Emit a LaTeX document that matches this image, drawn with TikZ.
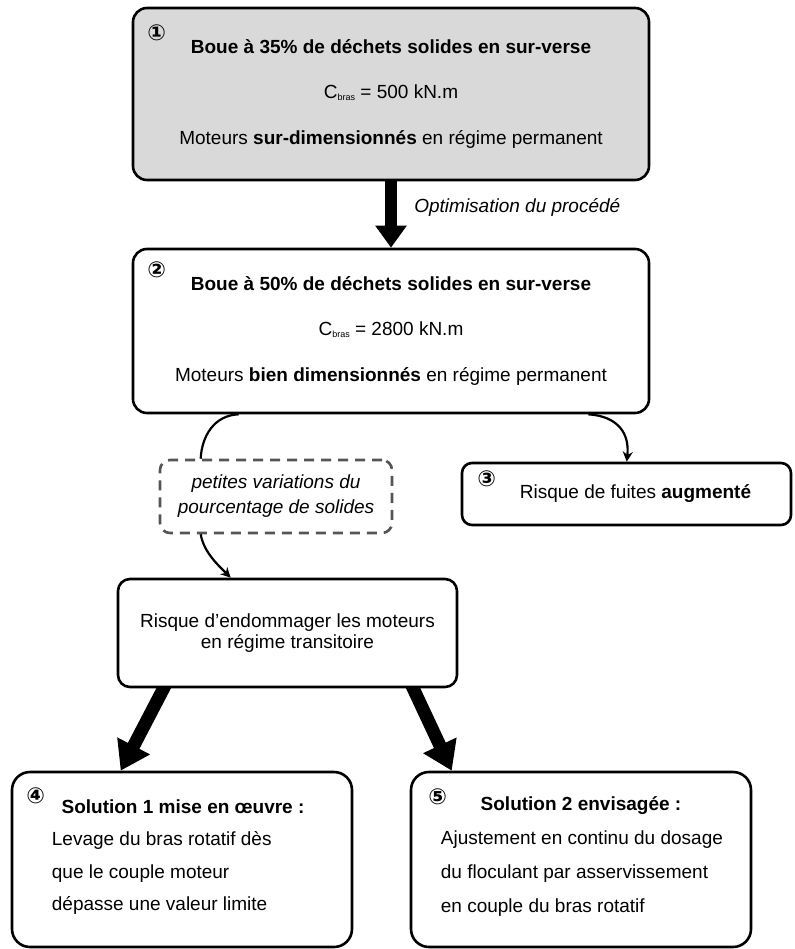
\documentclass[tikz,border=0pt]{standalone}
\usepackage{fontspec}
\setmainfont{Liberation Sans}
\newfontfamily\circfont{DejaVu Sans}
\usetikzlibrary{arrows.meta,backgrounds}
\definecolor{boxgrey}{HTML}{D9D9D9}
\definecolor{dashgrey}{HTML}{555555}
\newcommand{\Cbras}{C\raisebox{-2pt}{\fontsize{9}{9}\selectfont bras}}

\begin{document}
\begin{tikzpicture}[x=1pt,y=-1pt,
  txt/.style={font=\fontsize{19}{23}\selectfont},
  box/.style={draw, fill=white, line width=2.6pt, rounded corners=14pt, inner sep=0pt, align=center, txt},
  num/.style={font=\circfont\bfseries\fontsize{22}{22}\selectfont, inner sep=0pt},
  thinline/.style={line width=2.2pt},
  thinarrow/.style={line width=2.2pt, -{Stealth[length=10pt,width=10pt]}},
  bigarrow/.style={line width=12pt, -{Triangle[width=30pt,length=22pt]}},
  bigarrowb/.style={line width=13pt, -{Triangle[width=35pt,length=28pt]}}]
\useasboundingbox (0,0) rectangle (794,949);

% etats du procede
\node[box, fill=boxgrey, minimum width=516, minimum height=172, font=\fontsize{19}{45.5}\selectfont] (b1) at (391,94)
  {\textbf{Boue à 35\% de déchets solides en sur-verse}\\ \Cbras{} = 500 kN.m\\ Moteurs \textbf{sur-dimensionnés} en régime permanent};
\node[box, minimum width=516, minimum height=164, font=\fontsize{19}{45.5}\selectfont] (b2) at (391,331)
  {\textbf{Boue à 50\% de déchets solides en sur-verse}\\ \Cbras{} = 2800 kN.m\\ Moteurs \textbf{bien dimensionnés} en régime permanent};
\node[num] (n1) at ([shift={(25,26)}]b1.north west) {①};
\node[num] (n2) at ([shift={(25,22)}]b2.north west) {②};

\draw[bigarrow] (b1.south) -- (b2.north) node[pos=0.4, right=14pt, txt, font=\itshape\fontsize{19}{23}\selectfont] (opt) {Optimisation du procédé};

% consequences
\node[box, draw=dashgrey, dash pattern=on 10pt off 7pt, rounded corners=10pt, minimum width=232, minimum height=73, font=\itshape\fontsize{19}{25}\selectfont] (var) at (276,496.5)
  {petites variations du\\ pourcentage de solides};
\node[box, rounded corners=10pt, minimum width=329, minimum height=62] (b3) at (626.5,494)
  {\hspace*{18pt}Risque de fuites \textbf{augmenté}};
\node[num] (n3) at ([shift={(26,17)}]b3.north west) {③};
\node[box, rounded corners=12pt, minimum width=339, minimum height=108, font=\fontsize{19}{21}\selectfont] (risk) at (287.5,633)
  {Risque d’endommager les moteurs\\ en régime transitoire};

\coordinate (l1) at ([shift={(107,0)}]b2.south west);
\coordinate (l2) at ([shift={(42,0)}]var.north west);
\coordinate (l3) at ([shift={(42,0)}]var.south west);
\coordinate (l4) at ([shift={(114,0)}]risk.north west);
\coordinate (r1) at ([shift={(-62,0)}]b2.south east);
\coordinate (r2) at ([shift={(166,0)}]b3.north west);
\draw[thinline] (l1) .. controls +(-25,1) and +(1,-22) .. (l2);
\draw[thinarrow] (l3) .. controls +(3,18) and +(-12,-12) .. (l4);
\draw[thinarrow] (r1) .. controls +(30,2) and +(3,-28) .. (r2);

% solutions
\node[box, rounded corners=18pt, minimum width=340, minimum height=175] (b4) at (182,859.5) {};
\node[box, rounded corners=18pt, minimum width=340, minimum height=175] (b5) at (581,859.5) {};
\node[num] (n4) at ([shift={(25,25)}]b4.north west) {④};
\node[num] (n5) at ([shift={(28,26)}]b5.north west) {⑤};
\node[txt, font=\bfseries\fontsize{19}{23}\selectfont] (t4) at ([shift={(1,36)}]b4.north) {Solution 1 mise en œuvre :};
\node[txt, font=\bfseries\fontsize{19}{23}\selectfont] (t5) at ([shift={(0,35)}]b5.north) {Solution 2 envisagée :};
\node[anchor=base west, align=left, inner sep=0pt, font=\fontsize{19}{32.5}\selectfont] (d4) at ([shift={(41,140)}]b4.north west)
  {Levage du bras rotatif dès\\ que le couple moteur\\ dépasse une valeur limite};
\node[anchor=base west, align=left, inner sep=0pt, font=\fontsize{19}{34}\selectfont] (d5) at ([shift={(31,142)}]b5.north west)
  {Ajustement en continu du dosage\\ du floculant par asservissement\\ en couple du bras rotatif};

\coordinate (a1) at ([shift={(49,-4)}]risk.south west);
\coordinate (a2) at ([shift={(110,0)}]b4.north west);
\coordinate (a3) at ([shift={(-47,-4)}]risk.south east);
\coordinate (a4) at ([shift={(42,0)}]b5.north west);
\begin{scope}[on background layer]
\draw[bigarrowb] (a1) -- (a2);
\draw[bigarrowb] (a3) -- (a4);
\end{scope}
\end{tikzpicture}
\end{document}
